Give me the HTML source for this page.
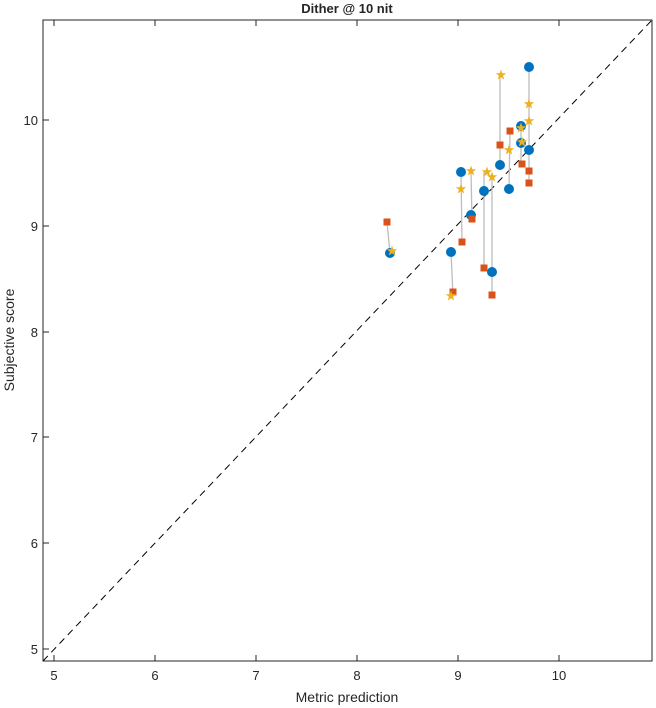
<!DOCTYPE html>
<html><head><meta charset="utf-8"><style>body{margin:0;background:#fff}svg{display:block}text{font-family:"Liberation Sans",sans-serif;fill:#262626}</style></head><body>
<svg width="656" height="708" viewBox="0 0 656 708" xmlns="http://www.w3.org/2000/svg">
<defs>
<symbol id="st" viewBox="-6 -6 12 12" overflow="visible"><polygon points="0,-5.5 1.3,-1.8 5.2,-1.7 2.1,0.7 3.2,4.5 0,2.2 -3.2,4.5 -2.1,0.7 -5.2,-1.7 -1.3,-1.8" fill="#EDB120"/></symbol>
</defs>
<rect x="43" y="20" width="609" height="641" fill="#fff" stroke="#262626" stroke-width="1"/>
<line x1="43" y1="661" x2="652" y2="20" stroke="#000" stroke-dasharray="7,5" stroke-width="1"/>
<g stroke="#262626" stroke-width="1">
<line x1="54" y1="661" x2="54" y2="655"/><line x1="155" y1="661" x2="155" y2="655"/><line x1="256" y1="661" x2="256" y2="655"/><line x1="357" y1="661" x2="357" y2="655"/><line x1="458" y1="661" x2="458" y2="655"/><line x1="559" y1="661" x2="559" y2="655"/>
<line x1="54" y1="20" x2="54" y2="26"/><line x1="155" y1="20" x2="155" y2="26"/><line x1="256" y1="20" x2="256" y2="26"/><line x1="357" y1="20" x2="357" y2="26"/><line x1="458" y1="20" x2="458" y2="26"/><line x1="559" y1="20" x2="559" y2="26"/>
<line x1="43" y1="649" x2="49" y2="649"/><line x1="43" y1="543" x2="49" y2="543"/><line x1="43" y1="437" x2="49" y2="437"/><line x1="43" y1="332" x2="49" y2="332"/><line x1="43" y1="226" x2="49" y2="226"/><line x1="43" y1="120" x2="49" y2="120"/>
</g>
<g font-size="13" text-anchor="middle">
<text x="54" y="680">5</text><text x="155" y="680">6</text><text x="256" y="680">7</text><text x="357" y="680">8</text><text x="458" y="680">9</text><text x="559" y="680">10</text>
</g>
<g font-size="13" text-anchor="end">
<text x="38" y="654">5</text><text x="38" y="548">6</text><text x="38" y="442">7</text><text x="38" y="337">8</text><text x="38" y="231">9</text><text x="38" y="125">10</text>
</g>
<text x="347" y="702" font-size="14" text-anchor="middle">Metric prediction</text>
<text transform="translate(14,340) rotate(-90)" font-size="14" text-anchor="middle">Subjective score</text>
<text x="347" y="13" font-size="13" font-weight="bold" text-anchor="middle" fill="#000">Dither @ 10 nit</text>
<g stroke="#bdbdbd" stroke-width="1.3">
<line x1="387" y1="222" x2="390" y2="253"/>
<line x1="451" y1="252" x2="453" y2="296"/>
<line x1="461" y1="172" x2="462" y2="242"/>
<line x1="471" y1="171" x2="472" y2="219"/>
<line x1="484" y1="172" x2="484" y2="268"/>
<line x1="492" y1="177" x2="492" y2="295"/>
<line x1="500" y1="75" x2="500" y2="165"/>
<line x1="510" y1="131" x2="509" y2="189"/>
<line x1="521" y1="126" x2="521" y2="164"/>
<line x1="529" y1="67" x2="529" y2="183"/>
</g>
<g fill="#0072BD">
<circle cx="390" cy="253" r="5"/><circle cx="451" cy="252" r="5"/><circle cx="461" cy="172" r="5"/><circle cx="471" cy="215" r="5"/><circle cx="484" cy="191" r="5"/><circle cx="492" cy="272" r="5"/><circle cx="500" cy="165" r="5"/><circle cx="509" cy="189" r="5"/><circle cx="521" cy="126" r="5"/><circle cx="521" cy="143" r="5"/><circle cx="529" cy="67" r="5"/><circle cx="529" cy="150" r="5"/>
</g>
<g fill="#D95319">
<rect x="383.5" y="218.5" width="7" height="7"/><rect x="449.5" y="288.5" width="7" height="7"/><rect x="458.5" y="238.5" width="7" height="7"/><rect x="468.5" y="215.5" width="7" height="7"/><rect x="480.5" y="264.5" width="7" height="7"/><rect x="488.5" y="291.5" width="7" height="7"/><rect x="496.5" y="141.5" width="7" height="7"/><rect x="506.5" y="127.5" width="7" height="7"/><rect x="518.5" y="160.5" width="7" height="7"/><rect x="525.5" y="167.5" width="7" height="7"/><rect x="525.5" y="179.5" width="7" height="7"/>
</g>
<g>
<use href="#st" x="386" y="245" width="12" height="12"/><use href="#st" x="445" y="290" width="12" height="12"/><use href="#st" x="455" y="183" width="12" height="12"/><use href="#st" x="465" y="165" width="12" height="12"/><use href="#st" x="481" y="166" width="12" height="12"/><use href="#st" x="486" y="171" width="12" height="12"/><use href="#st" x="495" y="69" width="12" height="12"/><use href="#st" x="503" y="144" width="12" height="12"/><use href="#st" x="515" y="122" width="12" height="12"/><use href="#st" x="516" y="136" width="12" height="12"/><use href="#st" x="523" y="98" width="12" height="12"/><use href="#st" x="523" y="115" width="12" height="12"/>
</g>
</svg>
</body></html>
